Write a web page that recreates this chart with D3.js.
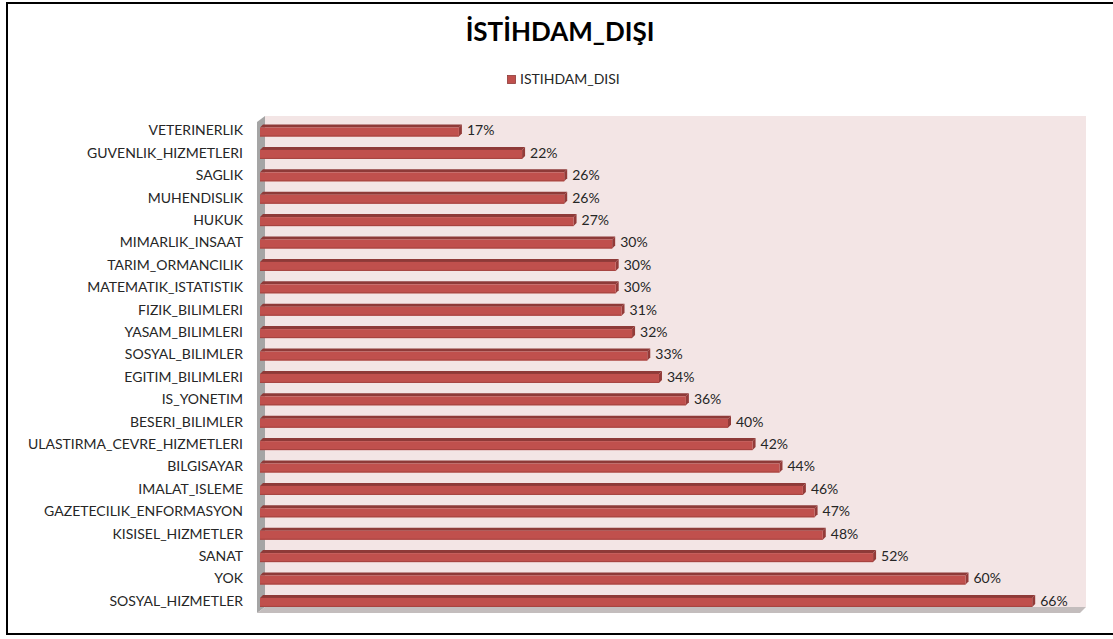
<!DOCTYPE html>
<html>
<head>
<meta charset="utf-8">
<script src="https://cdn.jsdelivr.net/npm/d3@7"></script>
<style>
  body { margin: 0; background: #fff; }
  svg { display: block; font-family: Lato, "Open Sans", sans-serif; }
</style>
</head>
<body>
<div id="chart"></div>
<script>
// data, top to bottom as in the chart
var categories = ['VETERINERLIK', 'GUVENLIK_HIZMETLERI', 'SAGLIK', 'MUHENDISLIK', 'HUKUK',
    'MIMARLIK_INSAAT', 'TARIM_ORMANCILIK', 'MATEMATIK_ISTATISTIK', 'FIZIK_BILIMLERI',
    'YASAM_BILIMLERI', 'SOSYAL_BILIMLER', 'EGITIM_BILIMLERI', 'IS_YONETIM', 'BESERI_BILIMLER',
    'ULASTIRMA_CEVRE_HIZMETLERI', 'BILGISAYAR', 'IMALAT_ISLEME', 'GAZETECILIK_ENFORMASYON',
    'KISISEL_HIZMETLER', 'SANAT', 'YOK', 'SOSYAL_HIZMETLER']
var istihdamDisi = [0.170, 0.224, 0.260, 0.260, 0.268, 0.301, 0.304, 0.304, 0.309, 0.318, 0.331,
    0.341, 0.364, 0.400, 0.421, 0.444, 0.464, 0.474, 0.481, 0.524, 0.603, 0.660]
var seriesName = 'ISTIHDAM_DISI'
var title = 'İSTİHDAM_DIŞI'
var xDomain = [0, 0.7]

var width = 1113, height = 639
var svg = d3.select('#chart').append('svg').attr('width', width).attr('height', height)

// outer frame
svg.append('rect').attr('x', 7).attr('y', 3).attr('width', 1120).attr('height', 631)
    .attr('fill', '#fff').attr('stroke', '#000').attr('stroke-width', 2)

var x = d3.scaleLinear().domain(xDomain).range([260, 260 + 0.7 * 1170])
var y = d3.scaleBand().domain(categories).range([119.3, 612.1]).paddingInner(0)

var depth = 7 // wall depth offset
var x0 = x(0), x1 = x(xDomain[1])
var wallTop = 116, wallBottom = 607

// back wall
svg.append('rect').attr('x', x0 + depth - 2).attr('y', wallTop)
    .attr('width', x1 - x0 + 2).attr('height', wallBottom - wallTop).attr('fill', '#f3e5e5')
// side wall
svg.append('path')
    .attr('d', `M${x0 - 3},${wallTop + 6}L${x0 + depth - 2},${wallTop}L${x0 + depth - 2},${wallBottom}L${x0 - 3},${wallBottom + 6}Z`)
    .attr('fill', '#a5a5a5')
// floor
svg.append('path')
    .attr('d', `M${x0 - 3},${wallBottom + 6}L${x0 + depth - 2},${wallBottom}L${x1 + depth},${wallBottom}L${x1 + 1},${wallBottom + 6}Z`)
    .attr('fill', '#c3bdbd')

// bars
var d = 3, h = 9
var bars = svg.append('g').selectAll('g').data(categories).join('g')
bars.each(function (c, i) {
    var g = d3.select(this)
    var cy = y(c) + y.bandwidth() / 2
    var yt = cy - 3
    var xe = x(istihdamDisi[i])
    g.append('path')
        .attr('d', `M${x0},${yt}L${x0 + d},${yt - d}L${xe + d},${yt - d}L${xe},${yt}Z`)
        .attr('fill', '#8e3a38')
    g.append('path')
        .attr('d', `M${xe},${yt}L${xe + d},${yt - d}L${xe + d},${yt - d + h}L${xe},${yt + h}Z`)
        .attr('fill', '#933b39')
    g.append('rect').attr('x', x0).attr('y', yt).attr('width', xe - x0).attr('height', h)
        .attr('fill', '#c0504d')
    g.append('line').attr('x1', x0).attr('x2', xe).attr('y1', yt + h - 0.5).attr('y2', yt + h - 0.5)
        .attr('stroke', '#a5433f').attr('stroke-width', 1)
    g.append('text').attr('x', xe + d + 5).attr('y', cy).attr('dy', '0.35em')
        .attr('font-size', 14).attr('fill', '#262626')
        .text(Math.round(istihdamDisi[i] * 100) + '%')
})

// category labels
svg.append('g').selectAll('text').data(categories).join('text')
    .attr('x', 243).attr('y', (c) => y(c) + y.bandwidth() / 2).attr('dy', '0.35em')
    .attr('text-anchor', 'end').attr('font-size', 14).attr('fill', '#262626')
    .text((c) => c)

// title
svg.append('text').attr('x', 560).attr('y', 41).attr('text-anchor', 'middle')
    .attr('font-size', 26).attr('font-weight', 'bold').attr('fill', '#000').text(title)

// legend
svg.append('rect').attr('x', 507.5).attr('y', 75.5).attr('width', 8).attr('height', 8)
    .attr('fill', '#c0504d').attr('stroke', '#8e3a38').attr('stroke-width', 0.8)
svg.append('text').attr('x', 520).attr('y', 79.5).attr('dy', '0.35em')
    .attr('font-size', 14).attr('fill', '#262626').text(seriesName)
</script>
</body>
</html>
